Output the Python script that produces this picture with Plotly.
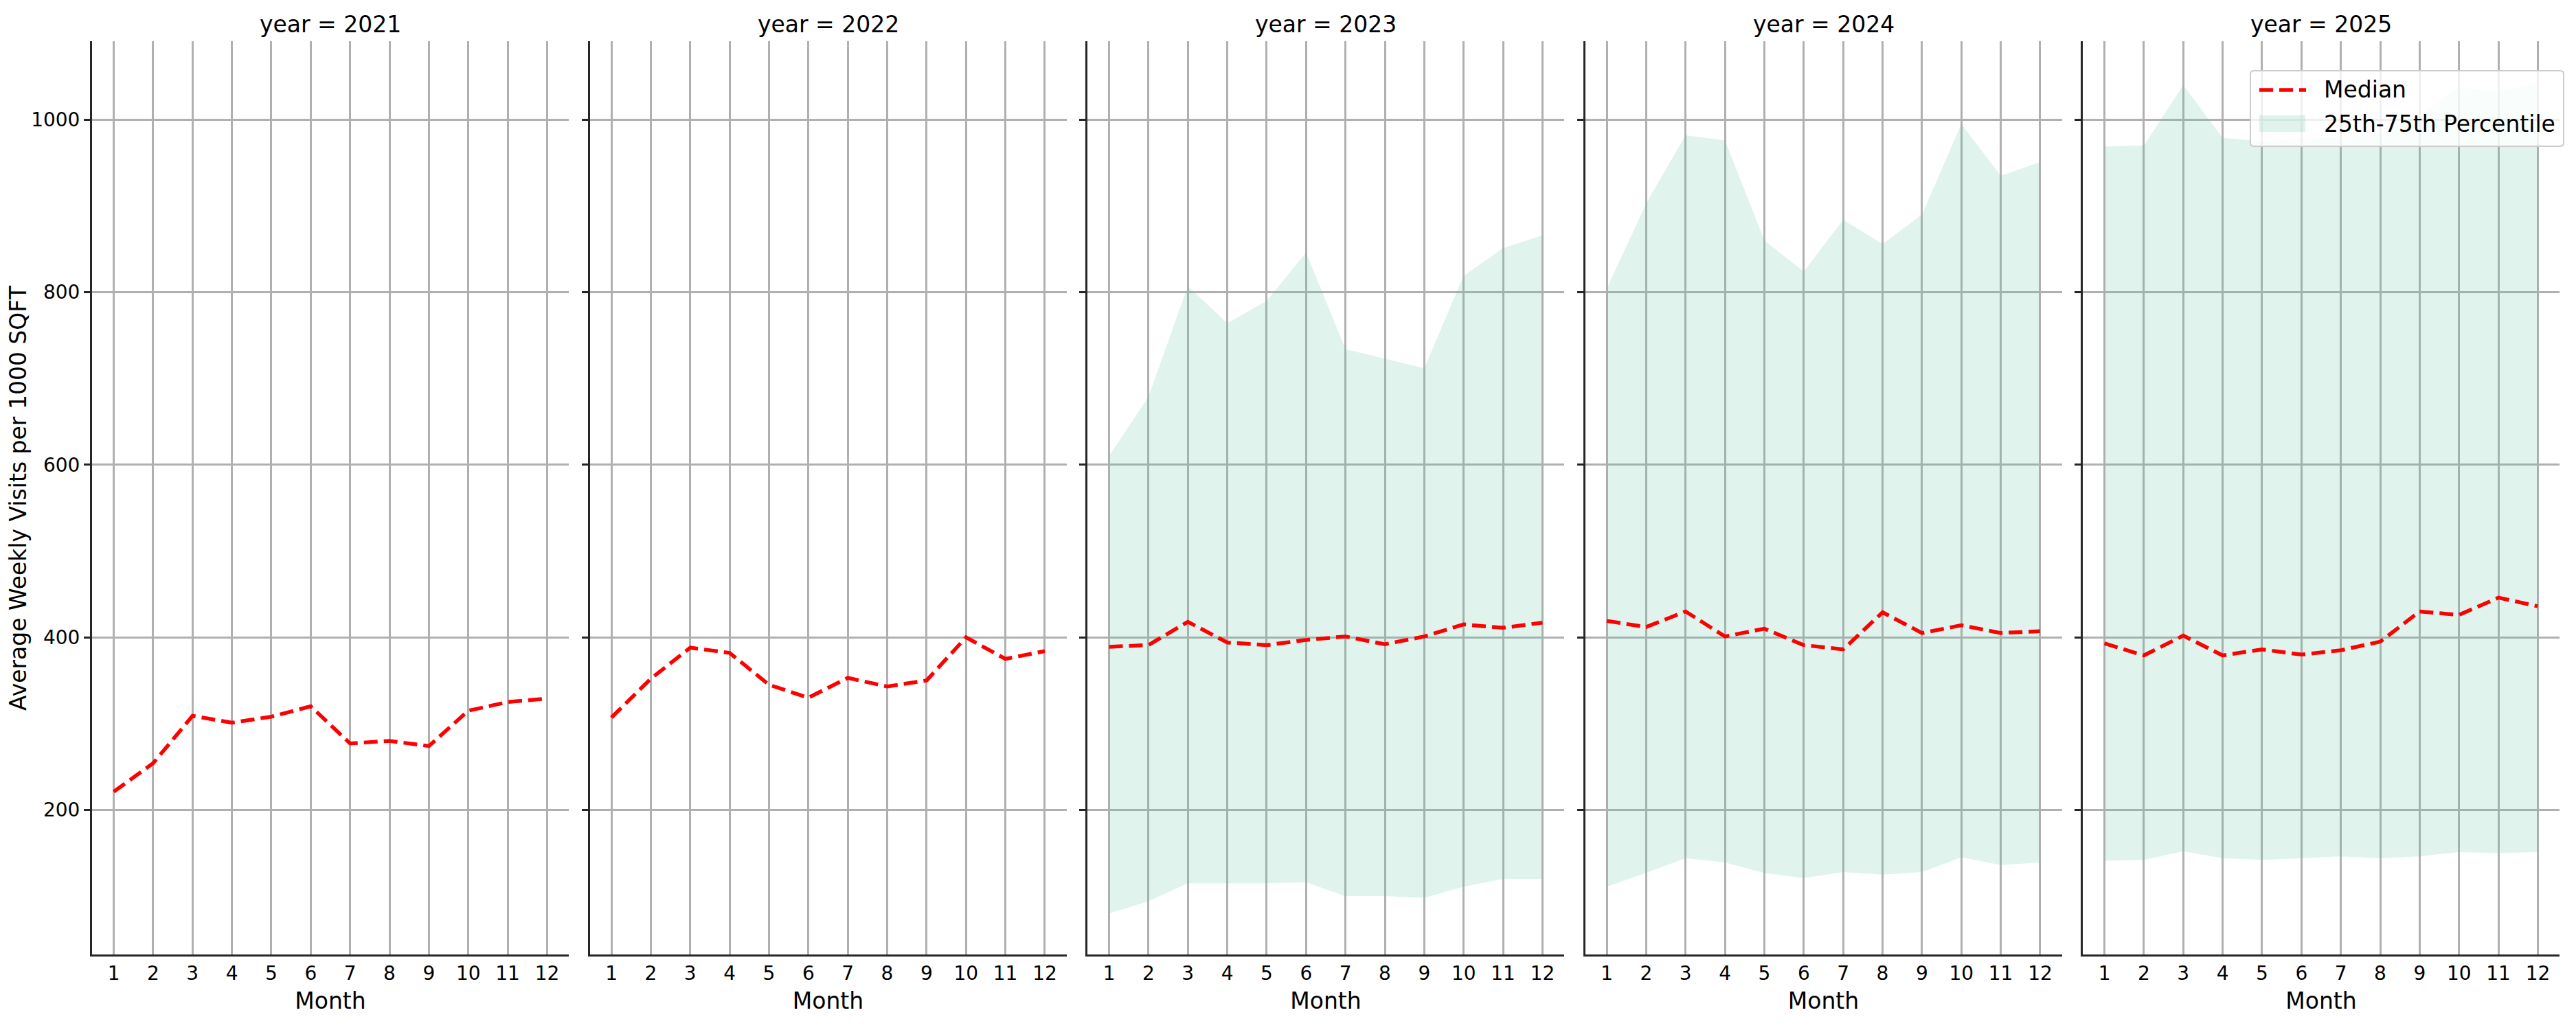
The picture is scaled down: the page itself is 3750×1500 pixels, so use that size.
import plotly.graph_objects as go
from plotly.subplots import make_subplots

# Data

months = [1, 2, 3, 4, 5, 6, 7, 8, 9, 10, 11, 12]
years = [2021, 2022, 2023, 2024, 2025]

median_2021 = [221, 254, 309, 301, 308, 320, 277, 280, 274, 315, 325, 329]
median_2022 = [307, 352, 388, 382, 345, 330, 353, 343, 350, 400, 375, 384]
median_2023 = [389, 391, 418, 394, 391, 397, 401, 392, 401, 415, 411, 417]
median_2024 = [419, 412, 430, 401, 410, 391, 386, 429, 405, 414, 405, 407]
median_2025 = [393, 379, 402, 379, 386, 380, 385, 395, 430, 426, 446, 436]

# 25th / 75th percentile (no band for 2021 and 2022)
p25_2023 = [80, 94, 115, 115, 115, 116, 100, 100, 98, 111, 120, 120]
p75_2023 = [610, 679, 807, 764, 790, 846, 734, 723, 712, 819, 851, 866]
p25_2024 = [111, 127, 144, 139, 127, 121, 128, 125, 128, 145, 136, 139]
p75_2024 = [804, 903, 982, 976, 860, 824, 884, 856, 890, 995, 935, 951]
p25_2025 = [141, 142, 152, 144, 142, 144, 146, 144, 146, 151, 150, 151]
p75_2025 = [969, 970, 1040, 979, 975, 978, 980, 983, 1005, 1038, 1032, 1043]

medians = [median_2021, median_2022, median_2023, median_2024, median_2025]
p25s = [None, None, p25_2023, p25_2024, p25_2025]
p75s = [None, None, p75_2023, p75_2024, p75_2025]

yticks = [200, 400, 600, 800, 1000]
legend_labels = ['Median', '25th-75th Percentile']

FONT = 'DejaVu Sans'
RED = 'red'
BAND = 'rgba(102,194,165,0.2)'
W, H = 3750, 1500
# the page body adds an 8px offset, margins are compensated for it
OFF = 8
ML, MT = 126, 52
panel_w = 694
panel_step = 724.5
plot_w = 4 * panel_step + panel_w
plot_h = 1330
MR = W - ML - plot_w
MB = H - MT - plot_h


def px_x(x):
    # page pixel -> paper fraction
    return (x - OFF - ML) / plot_w


def px_y(y):
    return 1 - (y - OFF - MT) / plot_h


fig = make_subplots(rows=1, cols=5, shared_yaxes=True)

for i, yr in enumerate(years):
    col = i + 1
    if p25s[i] is not None:
        band_x = months + months[::-1]
        band_y = p75s[i] + p25s[i][::-1]
        fig.add_trace(go.Scatter(x=band_x, y=band_y, fill='toself',
                                 fillcolor=BAND, line=dict(width=0),
                                 mode='lines', name=legend_labels[1],
                                 showlegend=False, hoverinfo='skip'),
                      row=1, col=col)
    fig.add_trace(go.Scatter(x=months, y=medians[i], mode='lines',
                             line=dict(color=RED, width=5.5, dash='20px,9px'),
                             name=legend_labels[0], showlegend=False),
                  row=1, col=col)

    # panel positions
    x0 = (i * panel_step) / plot_w
    x1 = (i * panel_step + panel_w) / plot_w
    fig.update_xaxes(domain=[x0, x1], row=1, col=col)

    fig.add_annotation(text=f'year = {yr}', x=(x0 + x1) / 2, y=1,
                       xref='paper', yref='paper', xanchor='center',
                       yanchor='bottom', yshift=3, showarrow=False,
                       font=dict(family=FONT, size=33, color='black'))

# y axis label as an annotation so it stays where the reference has it
fig.add_annotation(text='Average Weekly Visits per 1000 SQFT',
                   x=px_x(26), y=0.5, xref='paper', yref='paper',
                   xanchor='center', yanchor='middle', textangle=-90,
                   showarrow=False, borderpad=0,
                   font=dict(family=FONT, size=33, color='black'))

# legend box drawn by hand (matplotlib style, upper right of last panel)
bx0, bx1, by0, by1, r = 3276, 3732, 103, 213, 5
rx, ry = r / plot_w, r / plot_h
X0, X1, Y0, Y1 = px_x(bx0), px_x(bx1), px_y(by0), px_y(by1)
box = (f'M {X0 + rx},{Y0} L {X1 - rx},{Y0} Q {X1},{Y0} {X1},{Y0 - ry} '
       f'L {X1},{Y1 + ry} Q {X1},{Y1} {X1 - rx},{Y1} '
       f'L {X0 + rx},{Y1} Q {X0},{Y1} {X0},{Y1 + ry} '
       f'L {X0},{Y0 - ry} Q {X0},{Y0} {X0 + rx},{Y0} Z')
fig.add_shape(type='path', path=box, xref='paper', yref='paper',
              fillcolor='rgba(255,255,255,0.8)',
              line=dict(color='#cccccc', width=2), layer='above')
fig.add_shape(type='line', x0=px_x(3289), x1=px_x(3357), y0=px_y(131),
              y1=px_y(131), xref='paper', yref='paper',
              line=dict(color=RED, width=5.5, dash='20px,9px'), layer='above')
fig.add_shape(type='rect', x0=px_x(3289), x1=px_x(3356), y0=px_y(168),
              y1=px_y(192), xref='paper', yref='paper', fillcolor=BAND,
              line=dict(width=0), layer='above')
for label, ly in zip(legend_labels, [131, 180]):
    fig.add_annotation(text=label, x=px_x(3381), y=px_y(ly), xref='paper',
                       yref='paper', xanchor='left', yanchor='middle',
                       showarrow=False,
                       font=dict(family=FONT, size=33, color='black'))

fig.update_xaxes(range=[0.45, 12.55], tickvals=months, ticks='',
                 showgrid=True, gridcolor='#b0b0b0', gridwidth=2.5,
                 showline=True, linecolor='#262626', linewidth=3,
                 zeroline=False, automargin=False,
                 tickfont=dict(family=FONT, size=28, color='black'),
                 title=dict(text='Month', standoff=14,
                            font=dict(family=FONT, size=33, color='black')))

fig.update_yaxes(range=[32.4, 1091], tickvals=yticks, ticks='outside',
                 ticklen=9, tickwidth=2.5, tickcolor='#262626',
                 showgrid=True, gridcolor='#b0b0b0', gridwidth=2.5,
                 showline=True, linecolor='#262626', linewidth=3,
                 zeroline=False, automargin=False,
                 tickfont=dict(family=FONT, size=28, color='black'))

fig.update_layout(
    width=W, height=H,
    margin=dict(l=ML, r=MR, t=MT, b=MB),
    plot_bgcolor='white', paper_bgcolor='white',
    font=dict(family=FONT, color='black'),
    showlegend=False,
)

fig.write_html('out.html')
